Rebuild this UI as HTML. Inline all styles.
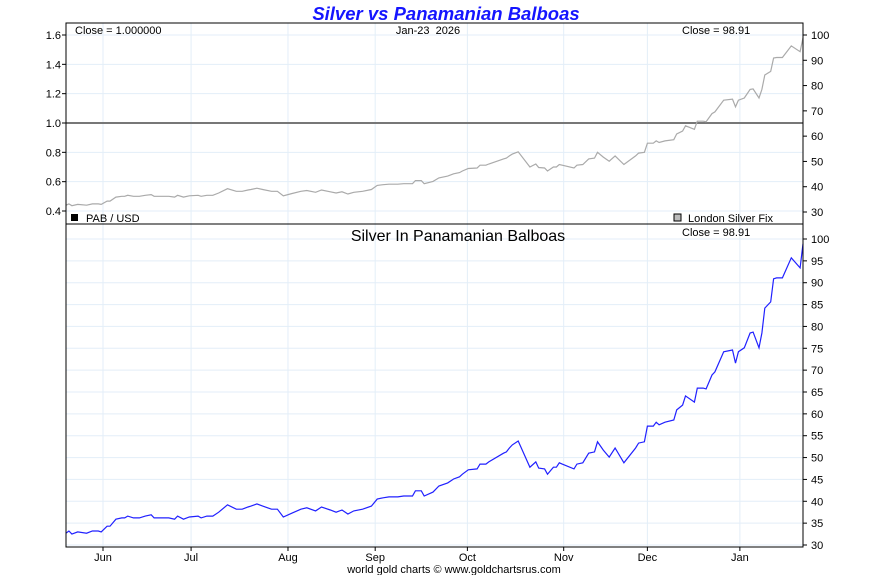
<!DOCTYPE html>
<html><head><meta charset="utf-8"><style>
body{margin:0;background:#fff;width:890px;height:575px;overflow:hidden}
svg{display:block;font-family:"Liberation Sans",sans-serif}
</style></head><body>
<svg id="chart" width="890" height="575"></svg>
<script>
const days=[0,1,2,4,7,9,11,12,14,15,17,19,20,21,23,25,27,29,30,32,35,37,38,40,42,45,46,48,50,52,55,58,60,62,63,65,67,70,72,74,77,80,82,85,87,90,92,94,96,98,101,104,106,108,110,113,115,118,119,121,122,125,127,130,132,134,135,137,140,141,143,144,149,150,151,152,154,158,160,161,163,164,166,167,168,169,173,174,176,178,180,181,183,185,187,190,194,195,197,198,200,201,202,204,207,208,210,211,214,215,217,218,220,221,224,227,228,229,231,233,234,236,237,238,240,241,242,244,247,250,251];
const silver=[32.7,33.2,32.5,33.0,32.7,33.2,33.2,33.0,34.3,34.3,35.9,36.2,36.2,36.6,36.2,36.2,36.6,36.9,36.2,36.2,36.2,35.9,36.6,35.9,36.4,36.6,36.2,36.6,36.6,37.5,39.2,38.2,38.2,38.7,38.9,39.4,38.9,38.2,38.2,36.4,37.3,38.2,38.5,37.8,38.7,38.0,37.5,38.0,37.1,37.8,38.2,38.9,40.5,40.8,41.0,41.0,41.2,41.2,42.4,42.4,41.2,42.1,43.5,44.2,45.1,45.6,46.2,47.2,47.4,48.5,48.5,49.0,51.0,51.3,52.2,52.9,53.8,47.8,49.0,47.6,47.4,46.2,47.8,47.8,48.8,48.5,47.4,48.5,48.8,51.0,51.3,53.6,51.7,50.1,52.2,48.8,52.2,53.3,53.6,57.2,57.2,58.1,57.5,58.1,58.6,60.9,62.0,64.1,62.7,65.9,65.9,65.7,68.9,69.6,74.2,74.6,71.6,74.2,75.1,78.5,78.7,75.1,78.5,84.2,85.6,90.9,91.1,91.1,95.7,93.4,98.91];
const months=["Jun","Jul","Aug","Sep","Oct","Nov","Dec","Jan"];
const monthDays=[12.6,42.6,75.6,105.3,136.7,169.5,198,229.5];
const ratioTicks=[0.4,0.6,0.8,1.0,1.2,1.4,1.6];
const topRightTicks=[30,40,50,60,70,80,90,100];
const botTicks=[30,35,40,45,50,55,60,65,70,75,80,85,90,95,100];

const svg=document.getElementById('chart');
const NS='http://www.w3.org/2000/svg';
const L=66,R=803,TT=23,TB=224,BB=547;
const x=d=>L+d*(R-L)/251;
const yTop=v=>212-(v-30)*177/70;
const yRatio=v=>211-(v-0.4)*176/1.2;
const yBot=v=>545-(v-30)*306/70;
function mk(tag,attrs,text){const e=document.createElementNS(NS,tag);for(const k in attrs)e.setAttribute(k,attrs[k]);if(text!==undefined)e.textContent=text;svg.appendChild(e);return e;}

ratioTicks.forEach(t=>{const g=mk('line',{x1:L,x2:R,y1:yRatio(t),y2:yRatio(t),stroke:'#e3eef8'});


const tk=mk('line',{x1:L-4,x2:L,y1:yRatio(t),y2:yRatio(t),stroke:'#000'});


const lb=mk('text',{x:L-5,y:yRatio(t)+4,'text-anchor':'end','font-size':11},t.toFixed(1));

});
topRightTicks.forEach(t=>{const tk=mk('line',{x1:R,x2:R+4,y1:yTop(t),y2:yTop(t),stroke:'#000'});


const lb=mk('text',{x:R+8,y:yTop(t)+4,'font-size':11},t);

});
botTicks.forEach(t=>{const g=mk('line',{x1:L,x2:R,y1:yBot(t),y2:yBot(t),stroke:'#e3eef8'});


const tk=mk('line',{x1:R,x2:R+4,y1:yBot(t),y2:yBot(t),stroke:'#000'});


const lb=mk('text',{x:R+8,y:yBot(t)+4,'font-size':11},t);

});
months.forEach((m,i)=>{const xx=x(monthDays[i]);
const g=mk('line',{x1:xx,x2:xx,y1:TT,y2:BB,stroke:'#e3eef8'});


const tk=mk('line',{x1:xx,x2:xx,y1:BB,y2:BB+4,stroke:'#000'});


const lb=mk('text',{x:xx,y:561,'text-anchor':'middle','font-size':11},m);

});

const one=mk('line',{x1:L,x2:R,y1:yRatio(1),y2:yRatio(1),stroke:'#777','stroke-width':2});



const ptsTop=days.map((d,i)=>x(d).toFixed(1)+','+yTop(silver[i]).toFixed(1)).join(' ');
const pt=mk('polyline',{points:ptsTop,fill:'none',stroke:'#aaa','stroke-width':1.2});


const ptsBot=days.map((d,i)=>x(d).toFixed(1)+','+yBot(silver[i]).toFixed(1)).join(' ');
const pb=mk('polyline',{points:ptsBot,fill:'none',stroke:'#2020ff','stroke-width':1.2});



const f1=mk('rect',{x:L,y:TT,width:R-L,height:TB-TT,fill:'none',stroke:'#000'});


const f2=mk('rect',{x:L,y:TB,width:R-L,height:BB-TB,fill:'none',stroke:'#000'});



const tt=mk('text',{x:446,y:20,'text-anchor':'middle','font-size':18.5,'font-weight':'bold','font-style':'italic',fill:'#1515ff'},'Silver vs Panamanian Balboas');


const t1=mk('text',{x:75,y:34,'font-size':11},'Close = 1.000000');


const t2=mk('text',{x:428,y:34,'text-anchor':'middle','font-size':11},'Jan-23\u00a0 2026');


const t3=mk('text',{x:682,y:34,'font-size':11},'Close = 98.91');


const t4=mk('text',{x:682,y:236,'font-size':11},'Close = 98.91');


const t5=mk('text',{x:458,y:241,'text-anchor':'middle','font-size':16},'Silver In Panamanian Balboas');


const s1=mk('rect',{x:71,y:214,width:7,height:7,fill:'#000'});


const l1=mk('text',{x:86,y:222,'font-size':11},'PAB / USD');


const s2=mk('rect',{x:674,y:214,width:7,height:7,fill:'#bbb',stroke:'#000'});


const l2=mk('text',{x:688,y:222,'font-size':11},'London Silver Fix');


const ft=mk('text',{x:454,y:573,'text-anchor':'middle','font-size':11},'world gold charts \u00a9 www.goldchartsrus.com');


</script>
</body></html>
